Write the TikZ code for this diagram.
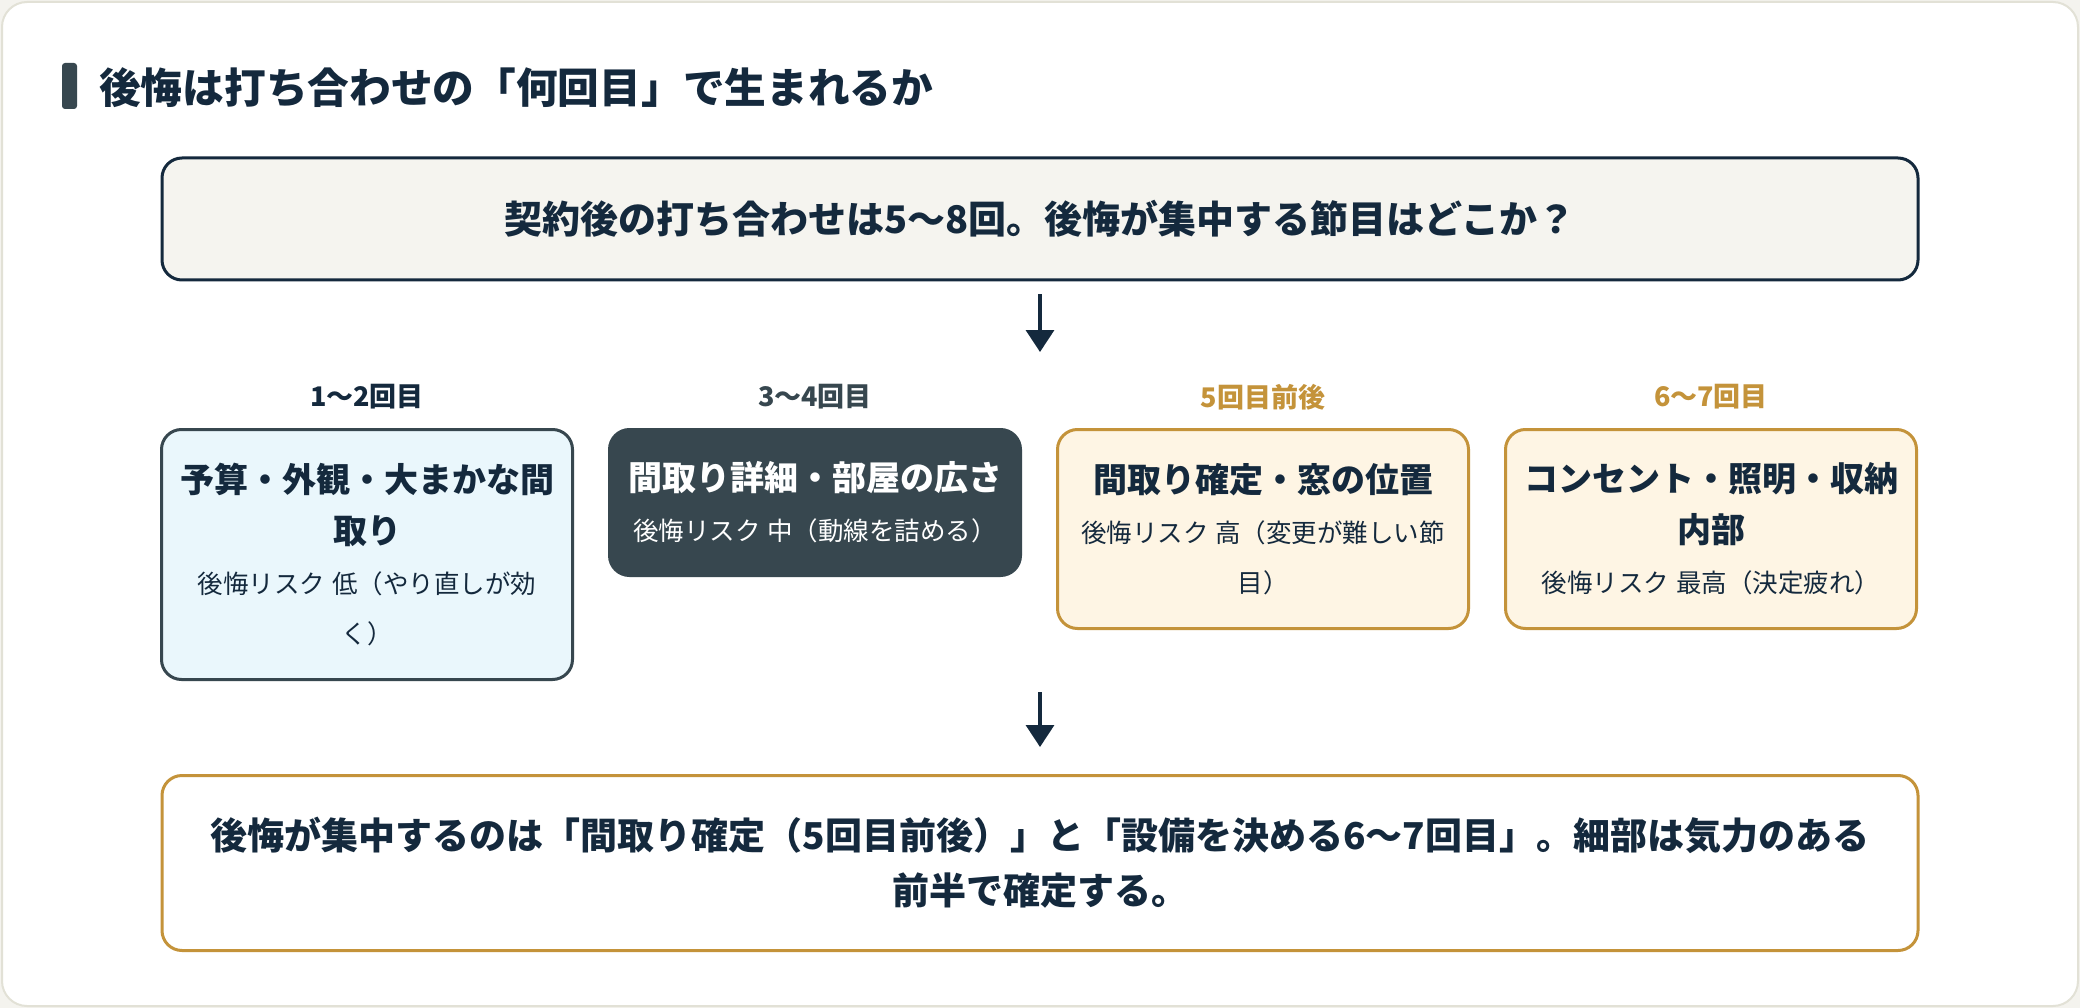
\documentclass[tikz,border=0pt]{standalone}
\usepackage{fontspec}
\setmainfont{Noto Sans CJK JP}
\usepackage{tikz}
\usetikzlibrary{arrows.meta, positioning}
\usepackage{xcolor}
\definecolor{navy}{HTML}{14293D}
\definecolor{slate}{HTML}{37474F}
\definecolor{gold}{HTML}{C4933A}
\definecolor{bluefill}{HTML}{EAF7FC}
\definecolor{creamfill}{HTML}{FEF5E4}
\definecolor{topfill}{HTML}{F5F4EF}
\definecolor{framegray}{HTML}{E2E1D6}
\definecolor{pagebg}{HTML}{F4F3EE}
\newcommand{\stagetitle}{\fontsize{34}{51}\selectfont\bfseries}
\newcommand{\stagenote}{\fontsize{25.5}{50}\selectfont\mdseries}
\newcommand{\gap}{\hspace{7pt}}

\begin{document}
\begin{tikzpicture}[x=1pt, y=-1pt, >={Triangle[width=28pt, length=22pt]},
  flow/.style={->, navy, line width=3.5pt},
  bigbox/.style={line width=3pt, rounded corners=20pt, minimum width=1756pt, align=center, text=navy},
  stagebox/.style={line width=3pt, rounded corners=20pt, minimum width=411pt, anchor=north,
    inner sep=0pt, text width=400pt, align=center, text=navy},
  steplabel/.style={font=\fontsize{27}{32}\selectfont\bfseries}]
\useasboundingbox (0,0) rectangle (2080,1008);
\fill[pagebg] (0,0) rectangle (2080,1008);
\draw[framegray, line width=2pt, fill=white, rounded corners=25pt] (2,2) rectangle (2078,1006);

% heading
\fill[slate, rounded corners=3pt] (62,63) rectangle (77,109);
\node[anchor=west, font=\fontsize{41.7}{50}\selectfont\bfseries, text=navy, inner sep=0pt] (heading) at (99,88) {後悔は打ち合わせの「何回目」で生まれるか};

% question
\node[bigbox, draw=navy, fill=topfill, minimum height=122pt, font=\fontsize{38}{46}\selectfont\bfseries] (question) at (1040,219) {契約後の打ち合わせは5〜8回。後悔が集中する節目はどこか？};

% stage labels
\node[steplabel, text=navy] (label1) at (367,397) {1〜2回目};
\node[steplabel, text=slate] (label2) at (815,397) {3〜4回目};
\node[steplabel, text=gold] (label3) at (1263,397) {5回目前後};
\node[steplabel, text=gold] (label4) at (1711,397) {6〜7回目};

% stages
\node[stagebox, draw=slate, fill=bluefill, minimum height=250pt] (stage1) at (367,428)
  {\stagetitle 予算・外観・大まかな間\\取り\par\stagenote 後悔リスク\gap 低（やり直しが効\\く）\par};
\node[stagebox, draw=slate, fill=slate, text=white, minimum height=146pt] (stage2) at (815,428)
  {\stagetitle 間取り詳細・部屋の広さ\par\stagenote 後悔リスク\gap 中（動線を詰める）\par};
\node[stagebox, draw=gold, fill=creamfill, minimum height=199pt] (stage3) at (1263,428)
  {\stagetitle 間取り確定・窓の位置\par\stagenote 後悔リスク\gap 高（変更が難しい節\\目）\par};
\node[stagebox, draw=gold, fill=creamfill, minimum height=199pt] (stage4) at (1711,428)
  {\stagetitle コンセント・照明・収納\\内部\par\stagenote 後悔リスク\gap 最高（決定疲れ）\par};

% summary
\node[bigbox, draw=gold, fill=white, minimum height=175pt, text width=1740pt, font=\fontsize{37}{55}\selectfont\bfseries] (summary) at (1040,863)
  {後悔が集中するのは「間取り確定（5回目前後）」と「設備を決める6〜7回目」。細部は気力のある\\前半で確定する。};

% arrows
\coordinate (arrowAend) at (1040,352);
\coordinate (arrowBstart) at (1040,692);
\draw[flow, shorten <=13pt] (question.south) -- (arrowAend);
\draw[flow, shorten >=27pt] (arrowBstart) -- (summary.north);
\end{tikzpicture}
\end{document}
